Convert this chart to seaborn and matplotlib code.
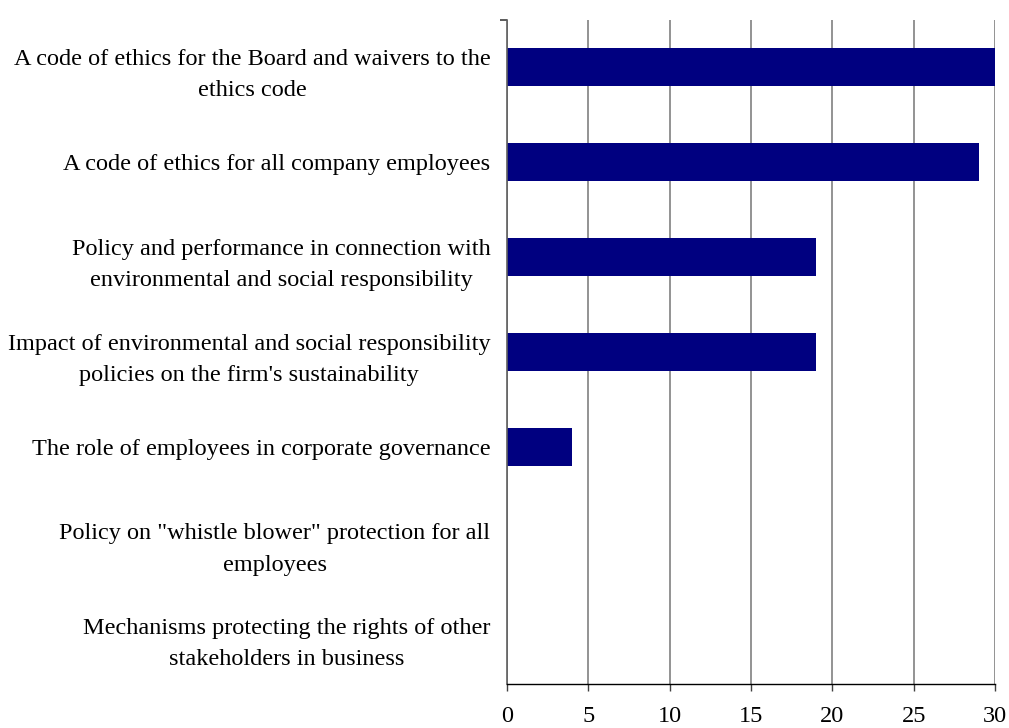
import matplotlib
matplotlib.use("Agg")
import matplotlib.pyplot as plt
import seaborn as sns
import pandas as pd
from matplotlib.ticker import FixedLocator

categories = [
    "A code of ethics for the Board and waivers to the\nethics code",
    "A code of ethics for all company employees",
    "Policy and performance in connection with\nenvironmental and social responsibility",
    "Impact of environmental and social responsibility\npolicies on the firm's sustainability",
    "The role of employees in corporate governance",
    "Policy on \"whistle blower\" protection for all\nemployees",
    "Mechanisms protecting the rights of other\nstakeholders in business",
]
values = [30, 29, 19, 19, 4, 0, 0]
x_ticks = [0, 5, 10, 15, 20, 25, 30]

df = pd.DataFrame({"item": categories, "count": values})

sns.set_theme(style="white")
plt.rcParams["font.family"] = ["Liberation Serif", "DejaVu Serif"]

fig = plt.figure(figsize=(10.09, 7.28), dpi=100)
ax = fig.add_axes([0.5025, 0.0604, 0.4836, 0.9121])

sns.barplot(data=df, x="count", y="item", color="#000080", width=0.4,
            saturation=1, ax=ax, orient="h", edgecolor="none", linewidth=0)

ax.set_xlim(0, 30)
ax.set_ylim(6.5, -0.5)
ax.xaxis.set_major_locator(FixedLocator(x_ticks))
ax.grid(axis="x", color="#808080", linewidth=1.2)
ax.set_axisbelow(True)
ax.set_xlabel("")
ax.set_ylabel("")

for side in ["top", "right"]:
    ax.spines[side].set_visible(False)
ax.spines["left"].set_color("#606060")
ax.spines["left"].set_linewidth(1.2)
ax.spines["bottom"].set_color("black")
ax.spines["bottom"].set_linewidth(1.0)

ax.tick_params(axis="x", direction="out", length=5, width=1, color="#404040",
               pad=11, labelsize=17.5, labelcolor="black", bottom=True)
ax.tick_params(axis="y", length=0, pad=12, labelsize=17.5, labelcolor="black")
ax.yaxis.set_minor_locator(FixedLocator([-0.5]))
ax.tick_params(axis="y", which="minor", length=5, width=1.2, color="#404040", left=True)

for lbl in ax.get_yticklabels():
    lbl.set_multialignment("center")
    lbl.set_linespacing(1.65)

fig.savefig("out.png", dpi=100)
